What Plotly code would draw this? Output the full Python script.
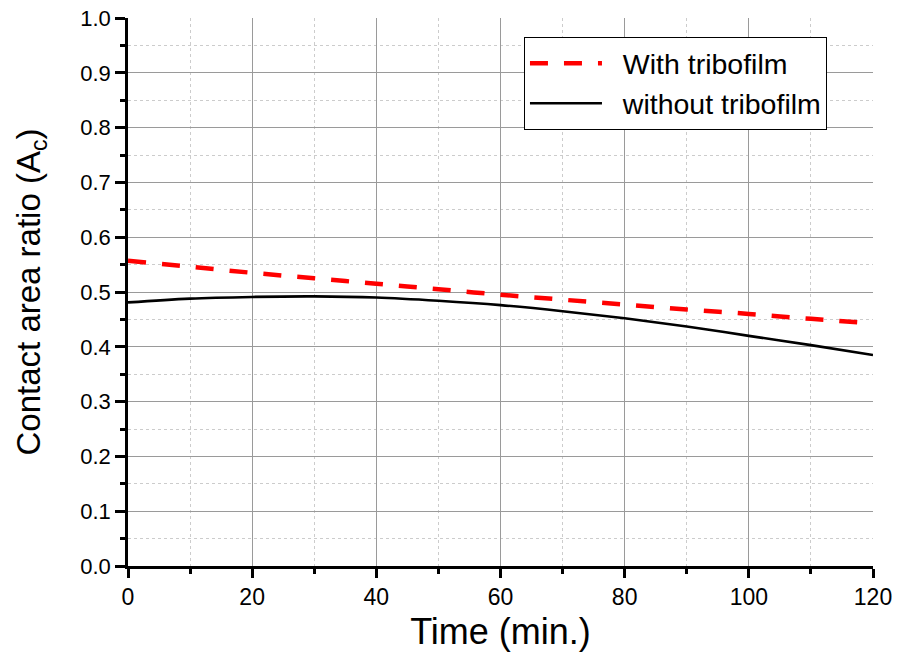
import plotly.graph_objects as go

time = [0, 10, 20, 30, 40, 50, 60, 70, 80, 90, 100, 110, 120]
with_tribofilm = [0.557, 0.546, 0.535, 0.525, 0.515, 0.505, 0.495, 0.486, 0.477, 0.468, 0.460, 0.451, 0.443]
without_tribofilm = [0.481, 0.488, 0.491, 0.492, 0.490, 0.484, 0.476, 0.465, 0.452, 0.437, 0.420, 0.403, 0.385]
x_ticks = [0, 20, 40, 60, 80, 100, 120]
series_names = ["With tribofilm", "without tribofilm"]

pad = "\u00a0\u00a0"
fig = go.Figure()
fig.add_trace(go.Scatter(x=time, y=with_tribofilm, mode="lines", name=pad + series_names[0],
                         line=dict(color="#ff0000", width=4.5, dash="18px,16px", shape="spline")))
fig.add_trace(go.Scatter(x=time, y=without_tribofilm, mode="lines", name=pad + series_names[1],
                         line=dict(color="#000000", width=2.6, shape="spline")))

font = "Liberation Sans, Arial, sans-serif"
fig.update_layout(
    width=897, height=658,
    margin=dict(l=128, r=24, t=18, b=92),
    paper_bgcolor="white", plot_bgcolor="white",
    font=dict(family=font, color="black"),
    showlegend=True,
    legend=dict(x=0.5315, y=0.965, xanchor="left", yanchor="top",
                bordercolor="black", borderwidth=1, bgcolor="white",
                font=dict(size=28.5, family=font), tracegroupgap=0, itemwidth=72),
)
fig.update_xaxes(
    range=[0, 120], tickvals=x_ticks, automargin=False,
    showline=True, linecolor="black", linewidth=2.5, mirror=False,
    ticks="outside", ticklen=9, tickwidth=2.5, tickcolor="black",
    tickfont=dict(size=23), zeroline=False,
    showgrid=True, gridcolor="#9a9a9a", gridwidth=1,
    minor=dict(dtick=10, ticks="outside", ticklen=5, tickwidth=2.5, tickcolor="black",
               showgrid=True, gridcolor="#cccccc", griddash="3px,3px", gridwidth=1),
    title=dict(text="Time (min.)", font=dict(size=36), standoff=10),
)
fig.update_yaxes(
    range=[0, 1.0], dtick=0.1, tickformat=".1f", automargin=False,
    showline=True, linecolor="black", linewidth=2.5,
    ticks="outside", ticklen=10, tickwidth=2.5, tickcolor="black",
    tickfont=dict(size=22), zeroline=False,
    showgrid=True, gridcolor="#9a9a9a", gridwidth=1,
    minor=dict(dtick=0.05, ticks="outside", ticklen=5, tickwidth=2.5, tickcolor="black",
               showgrid=True, gridcolor="#cccccc", griddash="3px,3px", gridwidth=1),
    title=dict(text="Contact area ratio (A<sub>c</sub>)", font=dict(size=33), standoff=30),
)
fig.write_html("out.html")
